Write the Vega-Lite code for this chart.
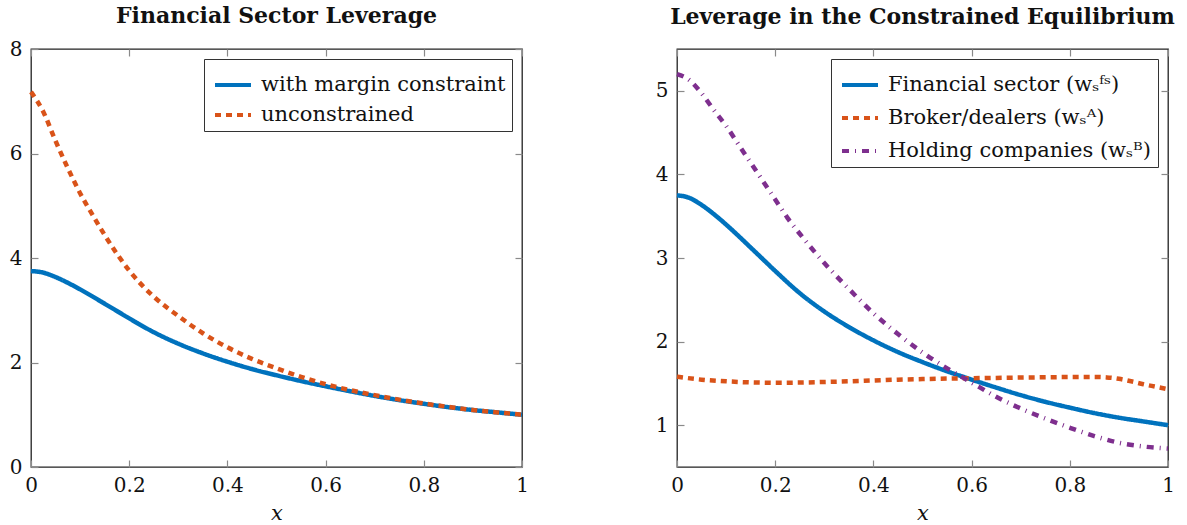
{
  "$schema": "https://vega.github.io/schema/vega-lite/v6.json",
  "background": "white",
  "padding": {"left": 8, "top": 4, "right": 5, "bottom": 5},
  "bounds": "flush",
  "spacing": 155,
  "resolve": {"scale": {"color": "independent", "strokeDash": "independent"}, "legend": {"color": "independent", "strokeDash": "independent"}},
  "config": {
    "font": "DejaVu Serif",
    "view": {"stroke": "#222", "strokeWidth": 1.3},
    "axis": {"grid": false, "domain": false, "tickColor": "#8a8a8a", "tickSize": -7, "tickWidth": 1.2, "labelFont": "DejaVu Serif", "labelFontSize": 20, "labelColor": "#111", "labelPadding": 16, "labelFlush": false, "titleFont": "DejaVu Serif", "titleFontStyle": "italic", "titleFontWeight": "normal", "titleFontSize": 21, "titleColor": "#111", "titlePadding": 7},
    "axisBottom": {"labelPadding": 15},
    "legend": {"orient": "top-right", "offset": 10, "strokeColor": "#333", "fillColor": "white", "padding": 6, "symbolOffset": 3, "labelFont": "DejaVu Serif", "labelFontSize": 21, "labelColor": "#111", "symbolType": "stroke", "symbolSize": 1296, "symbolStrokeWidth": 4, "rowPadding": 0, "labelOffset": 8, "cornerRadius": 0, "labelLimit": 500},
    "title": {"font": "DejaVu Serif", "fontWeight": "bold", "fontSize": 22, "color": "#111", "frame": "group"}
  },
  "datasets": {
    "left": [
      {"x": 0, "value": 3.75, "series": "with margin constraint"},
      {"x": 0.025, "value": 3.72, "series": "with margin constraint"},
      {"x": 0.05, "value": 3.635, "series": "with margin constraint"},
      {"x": 0.075, "value": 3.525, "series": "with margin constraint"},
      {"x": 0.1, "value": 3.40, "series": "with margin constraint"},
      {"x": 0.125, "value": 3.265, "series": "with margin constraint"},
      {"x": 0.15, "value": 3.125, "series": "with margin constraint"},
      {"x": 0.175, "value": 2.985, "series": "with margin constraint"},
      {"x": 0.2, "value": 2.845, "series": "with margin constraint"},
      {"x": 0.25, "value": 2.58, "series": "with margin constraint"},
      {"x": 0.3, "value": 2.36, "series": "with margin constraint"},
      {"x": 0.35, "value": 2.175, "series": "with margin constraint"},
      {"x": 0.4, "value": 2.015, "series": "with margin constraint"},
      {"x": 0.45, "value": 1.875, "series": "with margin constraint"},
      {"x": 0.5, "value": 1.755, "series": "with margin constraint"},
      {"x": 0.55, "value": 1.645, "series": "with margin constraint"},
      {"x": 0.6, "value": 1.545, "series": "with margin constraint"},
      {"x": 0.65, "value": 1.45, "series": "with margin constraint"},
      {"x": 0.7, "value": 1.36, "series": "with margin constraint"},
      {"x": 0.75, "value": 1.28, "series": "with margin constraint"},
      {"x": 0.8, "value": 1.21, "series": "with margin constraint"},
      {"x": 0.85, "value": 1.145, "series": "with margin constraint"},
      {"x": 0.9, "value": 1.09, "series": "with margin constraint"},
      {"x": 0.95, "value": 1.045, "series": "with margin constraint"},
      {"x": 1, "value": 1.0, "series": "with margin constraint"},
      {"x": 0, "value": 7.18, "series": "unconstrained"},
      {"x": 0.025, "value": 6.80, "series": "unconstrained"},
      {"x": 0.05, "value": 6.24, "series": "unconstrained"},
      {"x": 0.075, "value": 5.72, "series": "unconstrained"},
      {"x": 0.1, "value": 5.24, "series": "unconstrained"},
      {"x": 0.125, "value": 4.83, "series": "unconstrained"},
      {"x": 0.15, "value": 4.44, "series": "unconstrained"},
      {"x": 0.175, "value": 4.08, "series": "unconstrained"},
      {"x": 0.2, "value": 3.76, "series": "unconstrained"},
      {"x": 0.225, "value": 3.49, "series": "unconstrained"},
      {"x": 0.25, "value": 3.26, "series": "unconstrained"},
      {"x": 0.3, "value": 2.89, "series": "unconstrained"},
      {"x": 0.35, "value": 2.56, "series": "unconstrained"},
      {"x": 0.4, "value": 2.29, "series": "unconstrained"},
      {"x": 0.45, "value": 2.07, "series": "unconstrained"},
      {"x": 0.5, "value": 1.89, "series": "unconstrained"},
      {"x": 0.55, "value": 1.725, "series": "unconstrained"},
      {"x": 0.6, "value": 1.585, "series": "unconstrained"},
      {"x": 0.65, "value": 1.47, "series": "unconstrained"},
      {"x": 0.7, "value": 1.375, "series": "unconstrained"},
      {"x": 0.75, "value": 1.29, "series": "unconstrained"},
      {"x": 0.8, "value": 1.215, "series": "unconstrained"},
      {"x": 0.85, "value": 1.15, "series": "unconstrained"},
      {"x": 0.9, "value": 1.09, "series": "unconstrained"},
      {"x": 0.95, "value": 1.045, "series": "unconstrained"},
      {"x": 1, "value": 1.0, "series": "unconstrained"}
    ],
    "right": [
      {"x": 0, "value": 3.75, "series": "Financial sector (wₛᶠˢ)"},
      {"x": 0.025, "value": 3.72, "series": "Financial sector (wₛᶠˢ)"},
      {"x": 0.05, "value": 3.635, "series": "Financial sector (wₛᶠˢ)"},
      {"x": 0.075, "value": 3.525, "series": "Financial sector (wₛᶠˢ)"},
      {"x": 0.1, "value": 3.40, "series": "Financial sector (wₛᶠˢ)"},
      {"x": 0.125, "value": 3.265, "series": "Financial sector (wₛᶠˢ)"},
      {"x": 0.15, "value": 3.125, "series": "Financial sector (wₛᶠˢ)"},
      {"x": 0.175, "value": 2.985, "series": "Financial sector (wₛᶠˢ)"},
      {"x": 0.2, "value": 2.845, "series": "Financial sector (wₛᶠˢ)"},
      {"x": 0.25, "value": 2.58, "series": "Financial sector (wₛᶠˢ)"},
      {"x": 0.3, "value": 2.36, "series": "Financial sector (wₛᶠˢ)"},
      {"x": 0.35, "value": 2.175, "series": "Financial sector (wₛᶠˢ)"},
      {"x": 0.4, "value": 2.015, "series": "Financial sector (wₛᶠˢ)"},
      {"x": 0.45, "value": 1.875, "series": "Financial sector (wₛᶠˢ)"},
      {"x": 0.5, "value": 1.755, "series": "Financial sector (wₛᶠˢ)"},
      {"x": 0.55, "value": 1.645, "series": "Financial sector (wₛᶠˢ)"},
      {"x": 0.6, "value": 1.545, "series": "Financial sector (wₛᶠˢ)"},
      {"x": 0.65, "value": 1.45, "series": "Financial sector (wₛᶠˢ)"},
      {"x": 0.7, "value": 1.36, "series": "Financial sector (wₛᶠˢ)"},
      {"x": 0.75, "value": 1.28, "series": "Financial sector (wₛᶠˢ)"},
      {"x": 0.8, "value": 1.21, "series": "Financial sector (wₛᶠˢ)"},
      {"x": 0.85, "value": 1.145, "series": "Financial sector (wₛᶠˢ)"},
      {"x": 0.9, "value": 1.09, "series": "Financial sector (wₛᶠˢ)"},
      {"x": 0.95, "value": 1.045, "series": "Financial sector (wₛᶠˢ)"},
      {"x": 1, "value": 1.0, "series": "Financial sector (wₛᶠˢ)"},
      {"x": 0, "value": 1.58, "series": "Broker/dealers (wₛᴬ)"},
      {"x": 0.05, "value": 1.545, "series": "Broker/dealers (wₛᴬ)"},
      {"x": 0.1, "value": 1.525, "series": "Broker/dealers (wₛᴬ)"},
      {"x": 0.15, "value": 1.512, "series": "Broker/dealers (wₛᴬ)"},
      {"x": 0.2, "value": 1.508, "series": "Broker/dealers (wₛᴬ)"},
      {"x": 0.25, "value": 1.51, "series": "Broker/dealers (wₛᴬ)"},
      {"x": 0.3, "value": 1.517, "series": "Broker/dealers (wₛᴬ)"},
      {"x": 0.35, "value": 1.525, "series": "Broker/dealers (wₛᴬ)"},
      {"x": 0.4, "value": 1.535, "series": "Broker/dealers (wₛᴬ)"},
      {"x": 0.45, "value": 1.545, "series": "Broker/dealers (wₛᴬ)"},
      {"x": 0.5, "value": 1.552, "series": "Broker/dealers (wₛᴬ)"},
      {"x": 0.55, "value": 1.558, "series": "Broker/dealers (wₛᴬ)"},
      {"x": 0.6, "value": 1.562, "series": "Broker/dealers (wₛᴬ)"},
      {"x": 0.65, "value": 1.566, "series": "Broker/dealers (wₛᴬ)"},
      {"x": 0.7, "value": 1.57, "series": "Broker/dealers (wₛᴬ)"},
      {"x": 0.75, "value": 1.573, "series": "Broker/dealers (wₛᴬ)"},
      {"x": 0.8, "value": 1.576, "series": "Broker/dealers (wₛᴬ)"},
      {"x": 0.85, "value": 1.577, "series": "Broker/dealers (wₛᴬ)"},
      {"x": 0.875, "value": 1.572, "series": "Broker/dealers (wₛᴬ)"},
      {"x": 0.9, "value": 1.555, "series": "Broker/dealers (wₛᴬ)"},
      {"x": 0.925, "value": 1.525, "series": "Broker/dealers (wₛᴬ)"},
      {"x": 0.95, "value": 1.49, "series": "Broker/dealers (wₛᴬ)"},
      {"x": 0.975, "value": 1.46, "series": "Broker/dealers (wₛᴬ)"},
      {"x": 1, "value": 1.43, "series": "Broker/dealers (wₛᴬ)"},
      {"x": 0, "value": 5.2, "series": "Holding companies (wₛᴮ)"},
      {"x": 0.025, "value": 5.13, "series": "Holding companies (wₛᴮ)"},
      {"x": 0.05, "value": 4.97, "series": "Holding companies (wₛᴮ)"},
      {"x": 0.075, "value": 4.77, "series": "Holding companies (wₛᴮ)"},
      {"x": 0.1, "value": 4.58, "series": "Holding companies (wₛᴮ)"},
      {"x": 0.125, "value": 4.36, "series": "Holding companies (wₛᴮ)"},
      {"x": 0.15, "value": 4.14, "series": "Holding companies (wₛᴮ)"},
      {"x": 0.175, "value": 3.92, "series": "Holding companies (wₛᴮ)"},
      {"x": 0.2, "value": 3.70, "series": "Holding companies (wₛᴮ)"},
      {"x": 0.225, "value": 3.48, "series": "Holding companies (wₛᴮ)"},
      {"x": 0.25, "value": 3.29, "series": "Holding companies (wₛᴮ)"},
      {"x": 0.275, "value": 3.11, "series": "Holding companies (wₛᴮ)"},
      {"x": 0.3, "value": 2.94, "series": "Holding companies (wₛᴮ)"},
      {"x": 0.35, "value": 2.63, "series": "Holding companies (wₛᴮ)"},
      {"x": 0.4, "value": 2.34, "series": "Holding companies (wₛᴮ)"},
      {"x": 0.45, "value": 2.09, "series": "Holding companies (wₛᴮ)"},
      {"x": 0.5, "value": 1.87, "series": "Holding companies (wₛᴮ)"},
      {"x": 0.55, "value": 1.68, "series": "Holding companies (wₛᴮ)"},
      {"x": 0.6, "value": 1.51, "series": "Holding companies (wₛᴮ)"},
      {"x": 0.65, "value": 1.34, "series": "Holding companies (wₛᴮ)"},
      {"x": 0.7, "value": 1.20, "series": "Holding companies (wₛᴮ)"},
      {"x": 0.75, "value": 1.08, "series": "Holding companies (wₛᴮ)"},
      {"x": 0.8, "value": 0.97, "series": "Holding companies (wₛᴮ)"},
      {"x": 0.85, "value": 0.87, "series": "Holding companies (wₛᴮ)"},
      {"x": 0.9, "value": 0.79, "series": "Holding companies (wₛᴮ)"},
      {"x": 0.95, "value": 0.745, "series": "Holding companies (wₛᴮ)"},
      {"x": 1, "value": 0.72, "series": "Holding companies (wₛᴮ)"}
    ]
  },
  "hconcat": [
    {
      "width": 491,
      "height": 418,
      "title": {"text": "Financial Sector Leverage", "offset": 11},
      "data": {"name": "left"},
      "layer": [
        {
          "mark": {"type": "line", "interpolate": "monotone", "strokeWidth": 4.5},
          "encoding": {
            "x": {"field": "x", "type": "quantitative", "scale": {"domain": [0, 1], "nice": false}, "axis": {"orient": "bottom", "values": [0, 0.2, 0.4, 0.6, 0.8, 1], "format": "~g", "title": "x"}},
            "y": {"field": "value", "type": "quantitative", "scale": {"domain": [0, 8], "nice": false}, "axis": {"orient": "left", "values": [0, 2, 4, 6, 8], "title": null}},
            "color": {"field": "series", "type": "nominal", "scale": {"domain": ["with margin constraint", "unconstrained"], "range": ["#0072BD", "#D95319"]}, "legend": {"title": null}},
            "strokeDash": {"field": "series", "type": "nominal", "scale": {"domain": ["with margin constraint", "unconstrained"], "range": [[1, 0], [6, 5]]}, "legend": {"title": null}}
          }
        },
        {
          "mark": {"type": "point", "opacity": 0},
          "encoding": {
            "x": {"field": "x", "type": "quantitative", "axis": {"orient": "top", "values": [0, 0.2, 0.4, 0.6, 0.8, 1], "labels": false, "title": null}},
            "y": {"field": "value", "type": "quantitative", "axis": {"orient": "right", "values": [0, 2, 4, 6, 8], "labels": false, "title": null}}
          }
        }
      ],
      "resolve": {"axis": {"x": "independent", "y": "independent"}}
    },
    {
      "width": 491,
      "height": 418,
      "title": {"text": "Leverage in the Constrained Equilibrium", "offset": 19},
      "data": {"name": "right"},
      "layer": [
        {
          "mark": {"type": "line", "interpolate": "monotone", "strokeWidth": 4.5},
          "encoding": {
            "x": {"field": "x", "type": "quantitative", "scale": {"domain": [0, 1], "nice": false}, "axis": {"orient": "bottom", "values": [0, 0.2, 0.4, 0.6, 0.8, 1], "format": "~g", "title": "x"}},
            "y": {"field": "value", "type": "quantitative", "scale": {"domain": [0.5, 5.5], "nice": false, "zero": false}, "axis": {"orient": "left", "values": [1, 2, 3, 4, 5], "title": null}},
            "color": {"field": "series", "type": "nominal", "scale": {"domain": ["Financial sector (wₛᶠˢ)", "Broker/dealers (wₛᴬ)", "Holding companies (wₛᴮ)"], "range": ["#0072BD", "#D95319", "#7E2F8E"]}, "legend": {"title": null, "rowPadding": 3}},
            "strokeDash": {"field": "series", "type": "nominal", "scale": {"domain": ["Financial sector (wₛᶠˢ)", "Broker/dealers (wₛᴬ)", "Holding companies (wₛᴮ)"], "range": [[1, 0], [6, 5], [7, 6, 1, 6]]}, "legend": {"title": null, "rowPadding": 3}}
          }
        },
        {
          "mark": {"type": "point", "opacity": 0},
          "encoding": {
            "x": {"field": "x", "type": "quantitative", "axis": {"orient": "top", "values": [0, 0.2, 0.4, 0.6, 0.8, 1], "labels": false, "title": null}},
            "y": {"field": "value", "type": "quantitative", "axis": {"orient": "right", "values": [1, 2, 3, 4, 5], "labels": false, "title": null}}
          }
        }
      ],
      "resolve": {"axis": {"x": "independent", "y": "independent"}}
    }
  ]
}
